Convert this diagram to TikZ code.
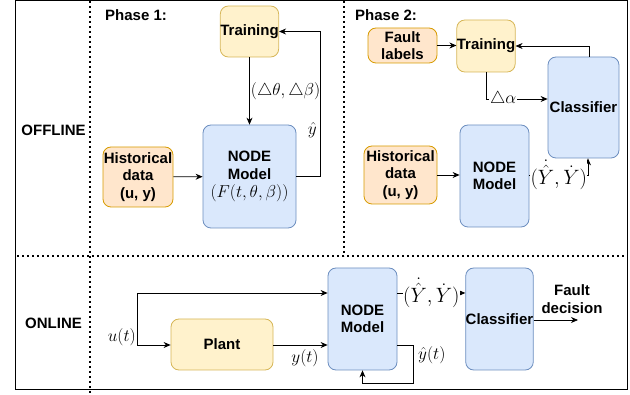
\documentclass[tikz,border=0pt]{standalone}
\usepackage[no-math]{fontspec}
\setmainfont{Liberation Sans}
\usetikzlibrary{arrows.meta}
\definecolor{yelF}{HTML}{FFF2CC}\definecolor{yelD}{HTML}{D6B656}
\definecolor{orgF}{HTML}{FFE6CC}\definecolor{orgD}{HTML}{D79B00}
\definecolor{bluF}{HTML}{DAE8FC}\definecolor{bluD}{HTML}{6C8EBF}
\tikzset{
  bx/.style={draw, rounded corners=8pt, line width=0.8pt, align=center, inner sep=0pt,
    font=\bfseries\fontsize{15}{17.5}\selectfont},
  yel/.style={bx, fill=yelF, draw=yelD},
  org/.style={bx, fill=orgF, draw=orgD},
  blu/.style={bx, fill=bluF, draw=bluD},
  arr/.style={draw=black, line width=0.8pt, -{Stealth[length=7pt,width=6pt]}},
  mlab/.style={inner sep=1pt, font=\fontsize{18}{21}\selectfont},
  ylab/.style={inner sep=0.5pt, font=\fontsize{20}{23}\selectfont},
  ttl/.style={font=\bfseries\fontsize{15}{17.5}\selectfont, inner sep=0pt, align=center},
  dotl/.style={line width=1.6pt, dash pattern=on 1.6pt off 3.4pt}
}
\begin{document}
\begin{tikzpicture}[x=1pt,y=-1pt]
\useasboundingbox (0,0) rectangle (630,395);
% frame and separators
\draw[line width=1pt] (15,0.5) rectangle (627,390);
\draw[dotl] (90,1) -- (90,395);
\draw[dotl] (17,256) -- (626,256);
\draw[dotl] (344,1) -- (344,256);
% titles
\node[ttl] (off) at (53.5,130) {OFFLINE};
\node[ttl] (on) at (53.5,323) {ONLINE};
\node[ttl, anchor=west] (ph1) at (105,15) {Phase 1:};
\node[ttl, anchor=west] (ph2) at (355,15) {Phase 2:};
% phase 1
\node[yel, minimum width=55pt, minimum height=51pt] (tr1) at (249.5,31.5) {Training};
\node[org, minimum width=70pt, minimum height=60pt] (hd1) at (138,177) {Historical\\data\\(u, y)};
\node[blu, minimum width=93pt, minimum height=103pt] (nm1) at (249.5,176.5)
  {NODE\\Model\\[1pt]{\mdseries\fontsize{17.5}{19}\selectfont$(F(t,\theta,\beta))$}};
\draw[arr] (hd1) -- (nm1);
\draw[arr] (tr1) -- node[mlab, right, font=\fontsize{16.5}{19}\selectfont] (lab1) {$(\triangle\theta,\triangle\beta)$} (nm1);
\draw[arr] (nm1.east) -- (320,176.5) |- (tr1.east);
\node[mlab, anchor=east] (yh) at (318,130) {$\hat{y}$};
% phase 2
\node[org, minimum width=69pt, minimum height=35pt] (fl) at (402.5,45.5) {Fault\\labels};
\node[yel, minimum width=58pt, minimum height=52pt] (tr2) at (486,46) {Training};
\node[blu, minimum width=71pt, minimum height=101pt] (cl2) at (583.5,107.5) {Classifier};
\node[org, minimum width=73pt, minimum height=58pt] (hd2) at (400.5,175) {Historical\\data\\(u, y)};
\node[blu, minimum width=69pt, minimum height=102pt] (nm2) at (494.5,176) {NODE\\Model};
\draw[arr] (fl.east) -- (tr2.west |- fl.east);
\draw[arr] ([xshift=5.5pt]cl2.north) |- (tr2.east);
\draw[arr] (tr2.south) |- ([yshift=8.5pt]cl2.west) node[mlab, pos=0.64, fill=white] (la) {$\triangle\alpha$};
\draw[arr] (hd2) -- (nm2.west |- hd2);
\draw[arr] (nm2.east |- hd2.east) -| ([xshift=4.5pt]cl2.south) node[ylab, pos=0.25, fill=white] (ly2) {$(\dot{\hat{Y}},\dot{Y})$};
% online
\node[yel, minimum width=102pt, minimum height=51pt] (pl) at (222,344.5) {Plant};
\node[blu, minimum width=69pt, minimum height=102pt] (nm3) at (362.5,319) {NODE\\Model};
\node[blu, minimum width=67pt, minimum height=102pt] (cl3) at (499.5,319) {Classifier};
\coordinate (u) at (137,345);
\node[mlab, anchor=east] (ul) at (137,337) {$u(t)$};
\draw[arr] (u) -- (pl.west |- u);
\draw[arr] (u) |- ([yshift=26pt]nm3.west);
\draw[arr] (pl.east |- u) -- ([yshift=-26pt]nm3.west);
\node[mlab] (yl) at (305,358) {$y(t)$};
\draw[arr] ([yshift=26pt]nm3.east) -- ([yshift=26pt]cl3.west) node[ylab, midway, fill=white] (ly3) {$(\dot{\hat{Y}},\dot{Y})$};
\coordinate (fd) at (578,320);
\draw[arr] (cl3.east |- fd) -- (fd);
\node[ttl] (fdl) at (572,299) {Fault\\decision};
\draw[arr] ([yshift=-26pt]nm3.east) -- (413,345) -- (413,383) -| (nm3.south);
\node[mlab, anchor=west] (yht) at (417,355) {$\hat{y}(t)$};
\end{tikzpicture}
\end{document}
